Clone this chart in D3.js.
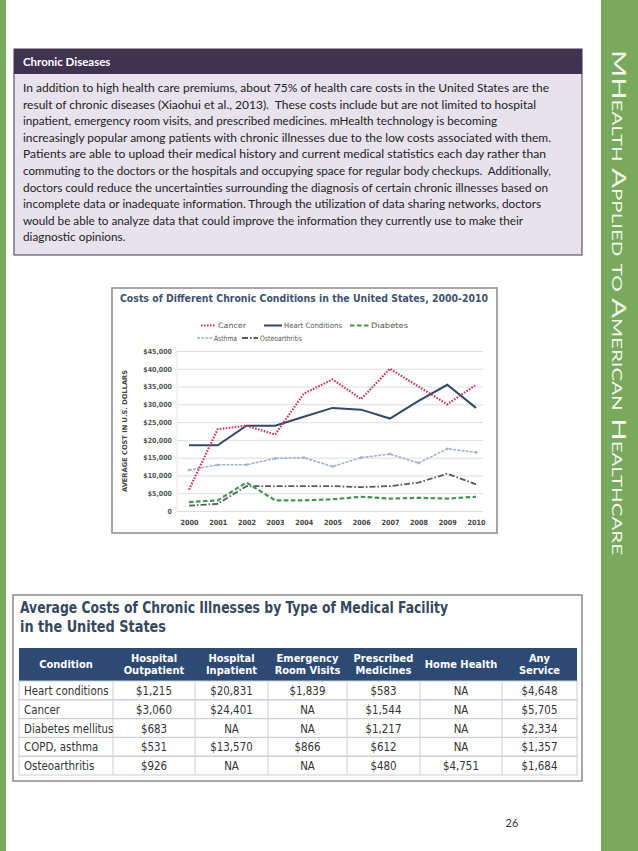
<!DOCTYPE html>
<html>
<head>
<meta charset="utf-8">
<script src="https://cdn.jsdelivr.net/npm/d3@7"></script>
<style>
  body { margin: 0; background: #fff; }
  svg { display: block; }
</style>
</head>
<body>
<script>
// page data
var bannerText = "MHealth Applied to American Healthcare";
var boxTitle = "Chronic Diseases";
var boxLines = [
  "In addition to high health care premiums, about 75% of health care costs in the United States are the",
  "result of chronic diseases (Xiaohui et al., 2013).  These costs include but are not limited to hospital",
  "inpatient, emergency room visits, and prescribed medicines. mHealth technology is becoming",
  "increasingly popular among patients with chronic illnesses due to the low costs associated with them.",
  "Patients are able to upload their medical history and current medical statistics each day rather than",
  "commuting to the doctors or the hospitals and occupying space for regular body checkups.  Additionally,",
  "doctors could reduce the uncertainties surrounding the diagnosis of certain chronic illnesses based on",
  "incomplete data or inadequate information. Through the utilization of data sharing networks, doctors",
  "would be able to analyze data that could improve the information they currently use to make their",
  "diagnostic opinions."
];
var pageNumber = "26";

// line chart data
var chartTitle = "Costs of Different Chronic Conditions in the United States, 2000-2010";
var yTitle = "AVERAGE COST IN U.S. DOLLARS";
var years = [2000, 2001, 2002, 2003, 2004, 2005, 2006, 2007, 2008, 2009, 2010];
var yTicks = [0, 5000, 10000, 15000, 20000, 25000, 30000, 35000, 40000, 45000];
var cancer = [6000, 23000, 24000, 21500, 33000, 37000, 31500, 40000, 35000, 30000, 35500];
var heart = [18500, 18500, 24000, 24000, 26500, 29000, 28500, 26000, 31000, 35500, 29000];
var diabetes = [2500, 3000, 8000, 3000, 3000, 3300, 4000, 3500, 3700, 3500, 4000];
var asthma = [11500, 13000, 13000, 14800, 15000, 12500, 15000, 16000, 13500, 17500, 16500];
var osteo = [1500, 2000, 7000, 7000, 7000, 7000, 6700, 7000, 8000, 10500, 7500];
var seriesNames = ["Cancer", "Heart Conditions", "Diabetes", "Asthma", "Osteoarthritis"];

// table data
var tableTitle = ["Average Costs of Chronic Illnesses by Type of Medical Facility", "in the United States"];
var tableHeaders = [["Condition"], ["Hospital", "Outpatient"], ["Hospital", "Inpatient"], ["Emergency", "Room Visits"], ["Prescribed", "Medicines"], ["Home Health"], ["Any", "Service"]];
var conditions = ["Heart conditions", "Cancer", "Diabetes mellitus", "COPD, asthma", "Osteoarthritis"];
var outpatient = ["$1,215", "$3,060", "$683", "$531", "$926"];
var inpatient = ["$20,831", "$24,401", "NA", "$13,570", "NA"];
var emergency = ["$1,839", "NA", "NA", "$866", "NA"];
var medicines = ["$583", "$1,544", "$1,217", "$612", "$480"];
var homeHealth = ["NA", "NA", "NA", "NA", "$4,751"];
var anyService = ["$4,648", "$5,705", "$2,334", "$1,357", "$1,684"];

var W = 638, H = 851;
var svg = d3.select("body").append("svg").attr("width", W).attr("height", H);

// ---- page frame
svg.append("rect").attr("x", 0).attr("y", 0).attr("width", 6).attr("height", H).attr("fill", "#79a95c");
svg.append("rect").attr("x", 601).attr("y", 0).attr("width", 37).attr("height", H).attr("fill", "#79a95c");
svg.append("text")
  .attr("transform", "translate(612,50) rotate(90)")
  .attr("font-family", "Lato, 'Open Sans', sans-serif")
  .attr("font-size", 20)
  .style("font-variant", "small-caps")
  .attr("fill", "#f4f8f1")
  .attr("textLength", 505).attr("lengthAdjust", "spacingAndGlyphs")
  .text(bannerText);

// ---- text box
var box = svg.append("g");
box.append("rect").attr("x", 14).attr("y", 49).attr("width", 568).attr("height", 206)
  .attr("fill", "#e7e2ec").attr("stroke", "#3f3350").attr("stroke-width", 1);
box.append("rect").attr("x", 14).attr("y", 49).attr("width", 568).attr("height", 25).attr("fill", "#3f3350");
box.append("text").attr("x", 23).attr("y", 66)
  .attr("font-family", "Lato, sans-serif").attr("font-weight", "bold").attr("font-size", 11.5)
  .attr("fill", "#fff").text(boxTitle);
// line ends as measured on the reference page (last line left at its natural width)
var lineWidths = [526, 513, 474, 528, 523, 528, 525, 518, 500, null];
box.selectAll("text.line").data(boxLines).enter().append("text")
  .attr("class", "line")
  .attr("x", 23)
  .attr("y", function (d, i) { return 92 + i * 16.6; })
  .attr("font-family", "Lato, sans-serif").attr("font-size", 11.8)
  .attr("fill", "#222")
  .attr("textLength", function (d, i) { return lineWidths[i]; })
  .attr("lengthAdjust", "spacingAndGlyphs")
  .style("white-space", "pre")
  .text(function (d) { return d; });

// ---- line chart
var chart = svg.append("g");
chart.append("rect").attr("x", 112).attr("y", 288).attr("width", 385).attr("height", 245)
  .attr("fill", "#fff").attr("stroke", "#8a8a8a").attr("stroke-width", 1.5);

var condFont = "'DejaVu Sans Condensed', 'Roboto Condensed', Roboto, sans-serif";
chart.append("text").attr("x", 120).attr("y", 302)
  .attr("font-family", condFont).attr("font-weight", "bold").attr("font-size", 10.5)
  .attr("fill", "#3d5370")
  .attr("textLength", 368).attr("lengthAdjust", "spacingAndGlyphs")
  .text(chartTitle);

var x = d3.scalePoint().domain(years).range([189, 476]);
var y = d3.scaleLinear().domain([0, 45000]).range([511, 351]);

// gridlines
chart.append("g")
  .attr("transform", "translate(177,0)")
  .call(d3.axisLeft(y).tickValues(yTicks).tickSize(-306).tickFormat(""))
  .call(function (g) { g.select(".domain").remove(); })
  .selectAll("line").attr("stroke", "#d4d4d4").attr("stroke-width", 0.8);
chart.append("line").attr("x1", 177).attr("x2", 177).attr("y1", 351).attr("y2", 511)
  .attr("stroke", "#e0e0e0").attr("stroke-width", 0.8);

// y axis labels
var yAxis = chart.append("g")
  .attr("transform", "translate(177,0)")
  .call(d3.axisLeft(y).tickValues(yTicks).tickSize(0).tickPadding(5)
    .tickFormat(function (d) { return d === 0 ? "0" : "$" + d3.format(",")(d); }));
yAxis.select(".domain").remove();
yAxis.selectAll("text").attr("font-family", condFont).attr("font-weight", "bold")
  .attr("font-size", 7).attr("fill", "#555");

// x axis labels
var xAxis = chart.append("g")
  .attr("transform", "translate(0,517)")
  .call(d3.axisBottom(x).tickSize(0).tickPadding(3).tickFormat(function (d) { return String(d); }));
xAxis.select(".domain").remove();
xAxis.selectAll("text").attr("font-family", condFont).attr("font-weight", "bold")
  .attr("font-size", 7.2).attr("fill", "#444");

chart.append("text")
  .attr("transform", "translate(127,431) rotate(-90)")
  .attr("text-anchor", "middle")
  .attr("font-family", condFont).attr("font-weight", "bold").attr("font-size", 6.6)
  .attr("fill", "#444")
  .attr("textLength", 122).attr("lengthAdjust", "spacingAndGlyphs")
  .text(yTitle);

var styles = [
  { values: cancer, color: "#cc3366", width: 2.2, dash: "1.6,1.4" },
  { values: heart, color: "#2e4a6b", width: 2, dash: null },
  { values: diabetes, color: "#3d9a4c", width: 2.2, dash: "4.5,2.5" },
  { values: asthma, color: "#9db2cf", width: 1.6, dash: "3,1.2" },
  { values: osteo, color: "#5a5a5a", width: 1.8, dash: "6,2,1.6,2" }
];

var line = d3.line()
  .x(function (d, i) { return x(years[i]); })
  .y(function (d) { return y(d); });

// draw in the reference's stacking order
[3, 4, 2, 1, 0].forEach(function (k) {
  var s = styles[k];
  chart.append("path")
    .attr("fill", "none")
    .attr("stroke", s.color)
    .attr("stroke-width", s.width)
    .attr("stroke-dasharray", s.dash)
    .attr("d", line(s.values));
});
chart.selectAll("circle.asthma").data(asthma).enter().append("circle")
  .attr("class", "asthma")
  .attr("cx", function (d, i) { return x(years[i]); })
  .attr("cy", function (d) { return y(d); })
  .attr("r", 1.4).attr("fill", "#9db2cf");

// legend: swatch start, row, swatch width, label width
var legendPos = [
  { x: 201, y: 325.5, w: 15, tw: 28 },
  { x: 264, y: 325.5, w: 18, tw: 58 },
  { x: 350, y: 325.5, w: 19, tw: 37 },
  { x: 197, y: 338, w: 15, tw: 23 },
  { x: 242, y: 338, w: 16, tw: 42 }
];
seriesNames.forEach(function (name, k) {
  var s = styles[k], p = legendPos[k];
  chart.append("line").attr("x1", p.x).attr("x2", p.x + p.w).attr("y1", p.y).attr("y2", p.y)
    .attr("stroke", s.color).attr("stroke-width", s.width)
    .attr("stroke-dasharray", s.dash);
  chart.append("text").attr("x", p.x + p.w + 2).attr("y", p.y + 2.6)
    .attr("font-family", condFont).attr("font-size", 7.4).attr("fill", "#555")
    .attr("textLength", p.tw).attr("lengthAdjust", "spacingAndGlyphs")
    .text(name);
});

// ---- table
var tbl = svg.append("g");
tbl.append("rect").attr("x", 13).attr("y", 595).attr("width", 569).attr("height", 186)
  .attr("fill", "#fff").attr("stroke", "#8a8a8a").attr("stroke-width", 1.5);
var titleWidths = [428, 146];
tbl.selectAll("text.ttl").data(tableTitle).enter().append("text")
  .attr("class", "ttl")
  .attr("x", 20)
  .attr("y", function (d, i) { return 613 + i * 19; })
  .attr("font-family", condFont).attr("font-weight", "bold").attr("font-size", 15)
  .attr("fill", "#34495e")
  .attr("textLength", function (d, i) { return titleWidths[i]; })
  .attr("lengthAdjust", "spacingAndGlyphs")
  .text(function (d) { return d; });

var colEdges = [19, 113, 195, 268, 347, 420, 502, 577];
var headTop = 648, headH = 33, rowH = 18.8;
var columns = [conditions, outpatient, inpatient, emergency, medicines, homeHealth, anyService];

tbl.append("rect").attr("x", colEdges[0]).attr("y", headTop)
  .attr("width", colEdges[7] - colEdges[0]).attr("height", headH).attr("fill", "#2c4a73");

var rowY = d3.scaleLinear().domain([0, 1]).range([headTop + headH, headTop + headH + rowH]);

// cell borders
conditions.forEach(function (c, r) {
  tbl.append("rect").attr("x", colEdges[0]).attr("y", rowY(r))
    .attr("width", colEdges[7] - colEdges[0]).attr("height", rowH)
    .attr("fill", "none").attr("stroke", "#c9ced6").attr("stroke-width", 1);
});
colEdges.slice(1, 7).forEach(function (e) {
  tbl.append("line").attr("x1", e).attr("x2", e)
    .attr("y1", headTop + headH).attr("y2", rowY(conditions.length))
    .attr("stroke", "#c9ced6").attr("stroke-width", 1);
});

tableHeaders.forEach(function (h, c) {
  var cx = (colEdges[c] + colEdges[c + 1]) / 2;
  var t = tbl.append("text").attr("text-anchor", "middle")
    .attr("font-family", condFont).attr("font-weight", "bold").attr("font-size", 11)
    .attr("fill", "#fff");
  h.forEach(function (part, j) {
    t.append("tspan").attr("x", cx)
      .attr("y", headTop + 20 + (j - (h.length - 1) / 2) * 12.5)
      .text(part);
  });
});

columns.forEach(function (col, c) {
  tbl.selectAll("text.c" + c).data(col).enter().append("text")
    .attr("class", "c" + c)
    .attr("x", c === 0 ? 24 : (colEdges[c] + colEdges[c + 1]) / 2)
    .attr("y", function (d, r) { return rowY(r) + 14; })
    .attr("text-anchor", c === 0 ? "start" : "middle")
    .attr("font-family", condFont).attr("font-size", 11.4)
    .attr("fill", "#333")
    .text(function (d) { return d; });
});

// page number
svg.append("text").attr("x", 512).attr("y", 827).attr("text-anchor", "middle")
  .attr("font-family", "Lato, sans-serif").attr("font-size", 11).attr("fill", "#333")
  .text(pageNumber);
</script>
</body>
</html>
